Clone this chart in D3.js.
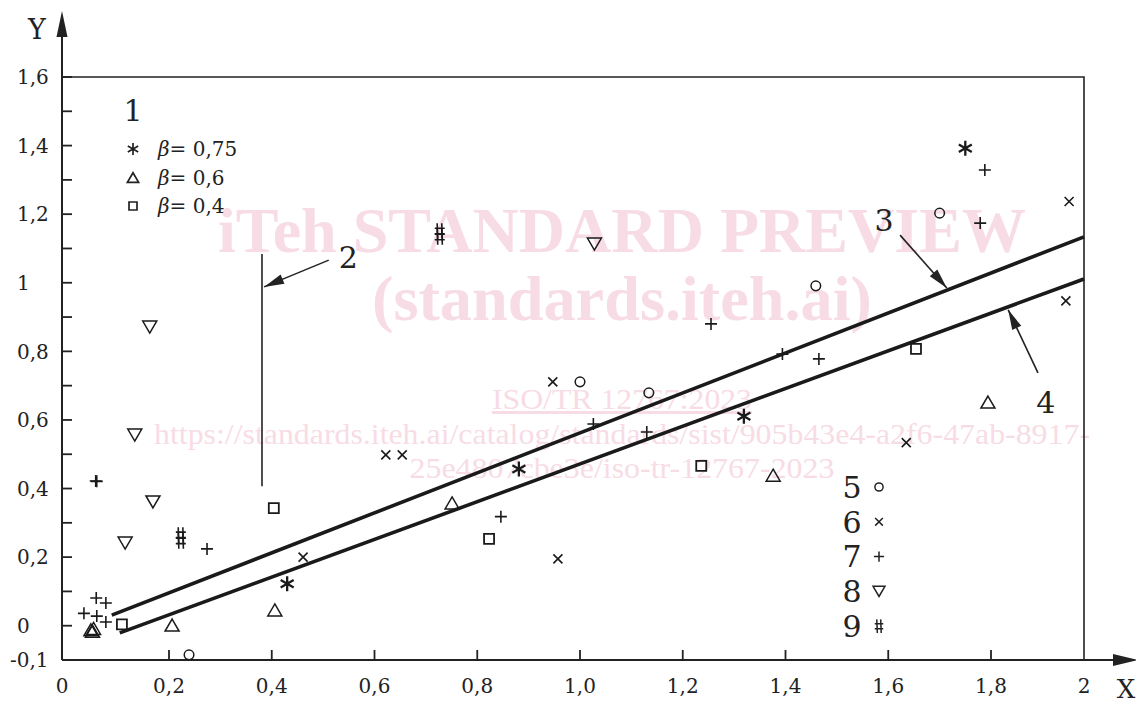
<!DOCTYPE html>
<html>
<head>
    <meta charset="utf-8">
    <title>Y(X)</title>
    <script src="https://d3js.org/d3.v7.min.js"></script>
    <style>
        body { margin: 0; background: #fff; }
        svg { display: block; font-family: "DejaVu Serif", serif; }
    </style>
</head>
<body>
<svg id="chart" width="1136" height="703"></svg>

<script>
    // ticks
    var xTicks = [0, 0.2, 0.4, 0.6, 0.8, 1.0, 1.2, 1.4, 1.6, 1.8, 2];
    var xTickLabels = ["0", "0,2", "0,4", "0,6", "0,8", "1,0", "1,2", "1,4", "1,6", "1,8", "2"];
    var yTicks = [-0.1, 0, 0.2, 0.4, 0.6, 0.8, 1, 1.2, 1.4, 1.6];
    var yTickLabels = ["-0,1", "0", "0,2", "0,4", "0,6", "0,8", "1", "1,2", "1,4", "1,6"];
    var yMinorTicks = [0.1, 0.3, 0.5, 0.7, 0.9, 1.1, 1.3, 1.5];

    // series, [x, y]
    var beta075 = [[0.430, 0.122], [0.881, 0.457], [1.319, 0.611], [1.750, 1.392]];
    var beta06 = [[0.054, -0.012], [0.059, -0.008], [0.057, -0.016], [0.206, 0.002], [0.406, 0.046],
                  [0.751, 0.358], [1.376, 0.439], [1.794, 0.652]];
    var beta04 = [[0.112, 0.004], [0.404, 0.343], [0.823, 0.253], [1.236, 0.466], [1.654, 0.807]];
    var series5 = [[0.239, -0.085], [1.000, 0.711], [1.134, 0.679], [1.459, 0.991], [1.700, 1.203]];
    var series6 = [[0.461, 0.200], [0.622, 0.498], [0.654, 0.498], [0.947, 0.711], [0.957, 0.195],
                   [1.635, 0.534], [1.961, 0.947], [1.968, 1.237]];
    var series7 = [[0.063, 0.422], [0.065, 0.421], [0.064, 0.081], [0.082, 0.066], [0.041, 0.036],
                   [0.065, 0.028], [0.082, 0.011], [0.274, 0.224], [0.846, 0.318], [1.026, 0.588],
                   [1.130, 0.565], [1.255, 0.880], [1.394, 0.792], [1.465, 0.778], [1.779, 1.174],
                   [1.788, 1.329]];
    var series8 = [[0.164, 0.871], [0.136, 0.556], [0.170, 0.361], [0.118, 0.241], [1.028, 1.113]];
    var series9 = [[0.727, 1.150], [0.727, 1.134], [0.223, 0.264], [0.223, 0.248]];

    // lines 3 and 4
    var line3 = [[0.093, 0.031], [2, 1.134]];
    var line4 = [[0.108, -0.021], [2, 1.011]];

    // callouts: label, label position, arrow start, arrow tip
    var callouts = [
        {label: "2", at: [0.549, 1.075], from: [0.511, 1.066], to: [0.385, 0.988]},
        {label: "3", at: [1.592, 1.183], from: [1.623, 1.139], to: [1.714, 0.985]},
        {label: "4", at: [1.918, 0.652], from: [1.901, 0.737], to: [1.837, 0.921]}
    ];
    var marker2 = [[0.381, 1.084], [0.381, 0.407]];

    var legendBeta = [["asterisk", "0,75"], ["triangle", "0,6"], ["square", "0,4"]];
    var legendNum = [["5", "circle"], ["6", "cross"], ["7", "plus"], ["8", "tridown"], ["9", "hash"]];

    var watermark = ["iTeh STANDARD PREVIEW", "(standards.iteh.ai)", "ISO/TR 12767:2023",
        "https://standards.iteh.ai/catalog/standards/sist/905b43e4-a2f6-47ab-8917-",
        "25e4807cbe3e/iso-tr-12767-2023"];

    var svg = d3.select("#chart");

    var x = d3.scaleLinear().domain([0, 0.2, 1.8, 2]).range([62, 169, 991, 1084]);
    var y = d3.scaleLinear().domain([-0.1, 1.6]).range([660, 77]);

    function markerPath(kind, s) {
        var p = d3.path();
        if (kind == "asterisk") {
            var r = 7.5 * s, c = r * Math.cos(Math.PI / 6), d = r * Math.sin(Math.PI / 6);
            p.moveTo(0, -r); p.lineTo(0, r);
            p.moveTo(-c, -d); p.lineTo(c, d);
            p.moveTo(-c, d); p.lineTo(c, -d);
        } else if (kind == "triangle") {
            p.moveTo(0, -6 * s); p.lineTo(7 * s, 6 * s); p.lineTo(-7 * s, 6 * s); p.closePath();
        } else if (kind == "tridown") {
            p.moveTo(0, 6 * s); p.lineTo(7 * s, -6 * s); p.lineTo(-7 * s, -6 * s); p.closePath();
        } else if (kind == "square") {
            p.rect(-5 * s, -5 * s, 10 * s, 10 * s);
        } else if (kind == "circle") {
            p.moveTo(4.8 * s, 0); p.arc(0, 0, 4.8 * s, 0, 2 * Math.PI);
        } else if (kind == "cross") {
            p.moveTo(-4.5 * s, -4.5 * s); p.lineTo(4.5 * s, 4.5 * s);
            p.moveTo(-4.5 * s, 4.5 * s); p.lineTo(4.5 * s, -4.5 * s);
        } else if (kind == "plus") {
            p.moveTo(-6 * s, 0); p.lineTo(6 * s, 0);
            p.moveTo(0, -6 * s); p.lineTo(0, 6 * s);
        } else if (kind == "hash") {
            p.moveTo(-2 * s, 8 * s); p.lineTo(-2.6 * s, -8 * s);
            p.moveTo(2.6 * s, 8 * s); p.lineTo(2 * s, -8 * s);
            p.moveTo(-5 * s, -3 * s); p.lineTo(5 * s, -3 * s);
            p.moveTo(-5 * s, 3 * s); p.lineTo(5 * s, 3 * s);
        }
        return p.toString();
    }

    // watermark
    var wm = svg.append("g")
        .style("font-family", "'Liberation Serif', serif")
        .style("fill", "#f8dce5");
    var wmPos = [[622, 252, 64, "bold", 808], [622, 320, 64, "bold", 500], [622, 409, 30, "normal", 260],
                 [622, 444, 30, "normal", 936], [622, 478, 30, "normal", 425]];
    wm.selectAll("text")
        .data(watermark)
        .enter().append("text")
        .attr("x", function(d, i) { return wmPos[i][0]; })
        .attr("y", function(d, i) { return wmPos[i][1]; })
        .attr("text-anchor", "middle")
        .attr("textLength", function(d, i) { return wmPos[i][4]; })
        .attr("lengthAdjust", "spacingAndGlyphs")
        .style("font-size", function(d, i) { return wmPos[i][2] + "px"; })
        .style("font-weight", function(d, i) { return wmPos[i][3]; })
        .style("text-decoration", function(d, i) { return i == 2 ? "underline" : "none"; })
        .text(function(d) { return d; });

    // frame
    svg.append("path")
        .attr("d", "M" + x(0) + "," + y(1.6) + "H" + x(2) + "V" + y(-0.1))
        .style("fill", "none")
        .style("stroke", "#222")
        .style("stroke-width", 1.6);

    // y axis
    var yAxis = svg.append("g");
    yAxis.append("path")
        .attr("d", "M" + x(0) + "," + y(-0.1) + "V30")
        .style("stroke", "#222").style("stroke-width", 2);
    yAxis.append("path")
        .attr("d", "M" + x(0) + ",11L" + (x(0) + 5.5) + ",37L" + (x(0) - 5.5) + ",37Z")
        .style("fill", "#222");
    yAxis.selectAll(".tick")
        .data(yTicks.concat(yMinorTicks))
        .enter().append("line")
        .attr("x1", x(0)).attr("x2", x(0) + 10)
        .attr("y1", function(d) { return y(d); })
        .attr("y2", function(d) { return y(d); })
        .style("stroke", "#222").style("stroke-width", 1.8);
    yAxis.selectAll("text")
        .data(yTicks)
        .enter().append("text")
        .attr("x", function(d) { return d < 0 ? 10 : 17; })
        .attr("y", function(d) { return y(d); })
        .attr("dy", "0.36em")
        .style("font-size", "20px")
        .style("fill", "#222")
        .text(function(d, i) { return yTickLabels[i]; });
    yAxis.append("text")
        .attr("x", 37).attr("y", 39)
        .attr("text-anchor", "middle")
        .style("font-size", "27px").style("fill", "#222")
        .text("Y");

    // x axis
    var xAxis = svg.append("g");
    xAxis.append("path")
        .attr("d", "M" + x(0) + "," + y(-0.1) + "H1120")
        .style("stroke", "#222").style("stroke-width", 2);
    xAxis.append("path")
        .attr("d", "M1138," + y(-0.1) + "L1113," + (y(-0.1) - 6) + "L1113," + (y(-0.1) + 6) + "Z")
        .style("fill", "#222");
    xAxis.selectAll("line")
        .data(xTicks.slice(1, -1))
        .enter().append("line")
        .attr("x1", function(d) { return x(d); })
        .attr("x2", function(d) { return x(d); })
        .attr("y1", y(-0.1)).attr("y2", y(-0.1) - 10)
        .style("stroke", "#222").style("stroke-width", 1.8);
    xAxis.selectAll("text")
        .data(xTicks)
        .enter().append("text")
        .attr("x", function(d) { return x(d); })
        .attr("y", 693)
        .attr("text-anchor", "middle")
        .style("font-size", "20px")
        .style("fill", "#222")
        .text(function(d, i) { return xTickLabels[i]; });
    xAxis.append("text")
        .attr("x", 1126).attr("y", 698)
        .attr("text-anchor", "middle")
        .style("font-size", "26px").style("fill", "#222")
        .text("X");

    // regression lines
    var lineGen = d3.line()
        .x(function(d) { return x(d[0]); })
        .y(function(d) { return y(d[1]); });
    svg.append("g")
        .selectAll("path")
        .data([line3, line4])
        .enter().append("path")
        .attr("d", lineGen)
        .style("fill", "none")
        .style("stroke", "#1a1a1a")
        .style("stroke-width", 3.6);

    // marker 2 line
    svg.append("path")
        .attr("d", lineGen(marker2))
        .style("stroke", "#222").style("stroke-width", 1.6);

    // callouts
    var co = svg.append("g").selectAll("g").data(callouts).enter().append("g");
    co.append("line")
        .attr("x1", function(d) { return x(d.from[0]); })
        .attr("y1", function(d) { return y(d.from[1]); })
        .attr("x2", function(d) { return x(d.to[0]); })
        .attr("y2", function(d) { return y(d.to[1]); })
        .style("stroke", "#222").style("stroke-width", 1.6);
    co.append("path")
        .attr("d", function(d) {
            var x0 = x(d.from[0]), y0 = y(d.from[1]), x1 = x(d.to[0]), y1 = y(d.to[1]);
            var a = Math.atan2(y1 - y0, x1 - x0), L = 20, W = 5;
            var bx = x1 - L * Math.cos(a), by = y1 - L * Math.sin(a);
            return "M" + x1 + "," + y1 +
                "L" + (bx - W * Math.sin(a)) + "," + (by + W * Math.cos(a)) +
                "L" + (bx + W * Math.sin(a)) + "," + (by - W * Math.cos(a)) + "Z";
        })
        .style("fill", "#222");
    co.append("text")
        .attr("x", function(d) { return x(d.at[0]); })
        .attr("y", function(d) { return y(d.at[1]); })
        .attr("dy", "0.36em")
        .attr("text-anchor", "middle")
        .style("font-size", "30px").style("fill", "#222")
        .text(function(d) { return d.label; });

    // points
    var allSeries = [
        [beta075, "asterisk", 2.3], [beta06, "triangle", 1.5], [beta04, "square", 1.8],
        [series5, "circle", 1.5], [series6, "cross", 1.6], [series7, "plus", 1.6],
        [series8, "tridown", 1.5], [series9, "hash", 1.6]
    ];
    allSeries.forEach(function(s) {
        svg.append("g")
            .selectAll("path")
            .data(s[0])
            .enter().append("path")
            .attr("transform", function(d) { return "translate(" + x(d[0]) + "," + y(d[1]) + ")"; })
            .attr("d", markerPath(s[1], 1))
            .style("fill", "none")
            .style("stroke", "#1a1a1a")
            .style("stroke-width", s[2]);
    });

    // legend 1
    var leg1 = svg.append("g");
    leg1.append("text")
        .attr("x", 133).attr("y", 121)
        .attr("text-anchor", "middle")
        .style("font-size", "30px").style("fill", "#222")
        .text("1");
    var rows1 = leg1.selectAll("g").data(legendBeta).enter().append("g")
        .attr("transform", function(d, i) { return "translate(0," + (149 + i * 28.5) + ")"; });
    rows1.append("path")
        .attr("transform", "translate(133,0)")
        .attr("d", function(d) { return markerPath(d[0], 0.8); })
        .style("fill", "none").style("stroke", "#222").style("stroke-width", 1.7);
    var t1 = rows1.append("text")
        .attr("x", 158).attr("dy", "0.36em")
        .style("font-size", "20px").style("fill", "#222");
    t1.append("tspan").style("font-style", "italic").text("β");
    t1.append("tspan").text(function(d) { return "= " + d[1]; });

    // legend 5..9
    var rows2 = svg.append("g").selectAll("g").data(legendNum).enter().append("g")
        .attr("transform", function(d, i) { return "translate(0," + (487 + i * 34.8) + ")"; });
    rows2.append("text")
        .attr("x", 852).attr("dy", "0.36em")
        .attr("text-anchor", "middle")
        .style("font-size", "30px").style("fill", "#222")
        .text(function(d) { return d[0]; });
    rows2.append("path")
        .attr("transform", "translate(879,0)")
        .attr("d", function(d) { return markerPath(d[1], 0.85); })
        .style("fill", "none").style("stroke", "#222").style("stroke-width", 1.5);
</script>
</body>
</html>
